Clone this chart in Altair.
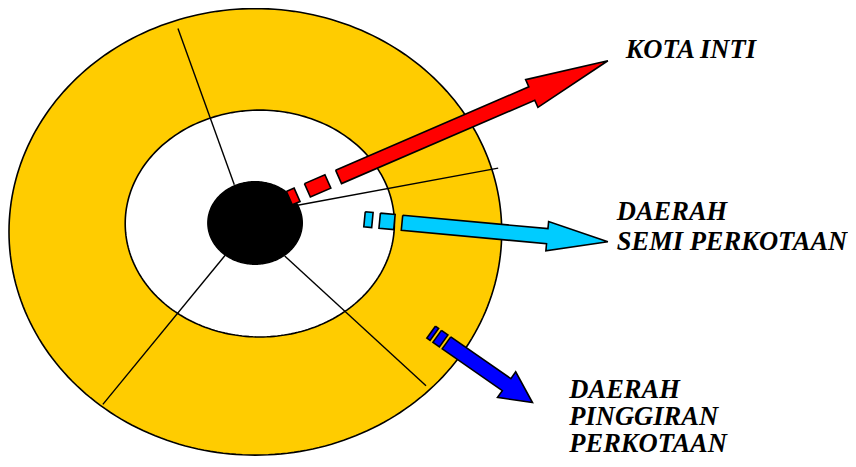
import math
import altair as alt
import pandas as pd

# ---------------- data (image coordinates, pixels) ----------------
ring_names = ["pinggiran", "semi", "inti"]
ring_cx = [253.3, 257.8, 253.0]
ring_cy = [231.3, 222.8, 222.2]
ring_rx = [249.3, 136.2, 47.7]
ring_ry = [228.7, 116.2, 42.2]
ring_fill = ["#FFCC00", "#FFFFFF", "#000000"]

div_x1 = [175, 296, 223, 283]
div_y1 = [23, 204, 255, 256]
div_x2 = [232, 499, 99, 426]
div_y2 = [183, 166, 408, 389]

arrow_names = ["kota", "semi", "pinggiran"]
arrow_sx = [337.5, 401.7, 446.7]
arrow_sy = [175.0, 222.0, 345.0]
arrow_tx = [610.0, 610.0, 533.7]
arrow_ty = [56.0, 241.5, 406.2]
arrow_shaft_w = [15.0, 15.5, 15.0]
arrow_head_w = [31.0, 30.0, 32.0]
arrow_head_len = [84.0, 61.6, 32.0]
arrow_dashes = [
    [(-54.4, -45.8), (-34.4, -11.8)],
    [(-38.1, -30.1), (-22.7, -7.7)],
    [(-19.0, -15.0), (-11.5, -3.5)],
]
arrow_fill = ["#FF0000", "#00CCFF", "#0000FF"]

labels = ["KOTA INTI", "DAERAH", "SEMI PERKOTAAN", "DAERAH", "PINGGIRAN", "PERKOTAAN"]
label_x = [628, 619, 619, 571, 571, 571]
label_y = [53, 219, 250, 401, 429, 457]

# ---------------- geometry tables ----------------
W, H = 840, 451
XDOM = [3, 853]
YDOM = [2, 464]

xs = alt.Scale(domain=XDOM, nice=False, zero=False)
ys = alt.Scale(domain=YDOM, nice=False, zero=False, reverse=True)


def ellipse_rows(i, n=240):
    rows = []
    for k in range(n + 1):
        t = 2 * math.pi * k / n
        rows.append({"id": ring_names[i], "o": k,
                     "x": ring_cx[i] + ring_rx[i] * math.cos(t),
                     "y": ring_cy[i] + ring_ry[i] * math.sin(t)})
    return pd.DataFrame(rows)


def arrow_rows():
    rows = []
    for i in range(len(arrow_names)):
        sx, sy, tx, ty = arrow_sx[i], arrow_sy[i], arrow_tx[i], arrow_ty[i]
        L = math.hypot(tx - sx, ty - sy)
        ux, uy = (tx - sx) / L, (ty - sy) / L
        nx, ny = -uy, ux
        w, hw, hl = arrow_shaft_w[i] / 2, arrow_head_w[i] / 2, arrow_head_len[i]
        polys = [[(0, -w), (L - hl, -w), (L - hl, -hw), (L, 0), (L - hl, hw),
                  (L - hl, w), (0, w), (0, -w)]]
        for a, b in arrow_dashes[i]:
            polys.append([(a, -w), (b, -w), (b, w), (a, w), (a, -w)])
        for p, poly in enumerate(polys):
            for k, (t, s) in enumerate(poly):
                rows.append({"id": f"{arrow_names[i]}_{p}", "o": k,
                             "fill": arrow_fill[i],
                             "x": sx + t * ux + s * nx,
                             "y": sy + t * uy + s * ny})
    return pd.DataFrame(rows)


layers = []
for i in range(len(ring_names)):
    layers.append(
        alt.Chart(ellipse_rows(i)).mark_line(
            fill=ring_fill[i], stroke="black", strokeWidth=1.6
        ).encode(
            x=alt.X("x:Q", scale=xs, axis=None),
            y=alt.Y("y:Q", scale=ys, axis=None),
            order=alt.Order("o:Q"),
        )
    )

div_df = pd.DataFrame({"x": div_x1, "y": div_y1, "x2": div_x2, "y2": div_y2})
dividers = alt.Chart(div_df).mark_rule(color="black", strokeWidth=1.4).encode(
    x=alt.X("x:Q", scale=xs, axis=None),
    y=alt.Y("y:Q", scale=ys, axis=None),
    x2="x2:Q", y2="y2:Q",
)
layers.insert(2, dividers)

arrows = alt.Chart(arrow_rows()).mark_line(
    stroke="black", strokeWidth=1.6, strokeJoin="miter"
).encode(
    x=alt.X("x:Q", scale=xs, axis=None),
    y=alt.Y("y:Q", scale=ys, axis=None),
    order=alt.Order("o:Q"),
    detail="id:N",
    fill=alt.Fill("fill:N", scale=None),
)
layers.append(arrows)

text_df = pd.DataFrame({"label": labels, "x": label_x, "y": label_y})
text = alt.Chart(text_df).mark_text(
    align="left", baseline="alphabetic", font="Liberation Serif",
    fontSize=26.5, fontStyle="italic", fontWeight="bold", color="black"
).encode(
    x=alt.X("x:Q", scale=xs, axis=None),
    y=alt.Y("y:Q", scale=ys, axis=None),
    text="label:N",
)
layers.append(text)

chart = alt.layer(*layers).properties(
    width=W, height=H, padding=0, autosize=alt.AutoSizeParams(type="none")
).configure_view(stroke=None)

chart.save("out.html", embed_options={"renderer": "svg", "actions": False})
